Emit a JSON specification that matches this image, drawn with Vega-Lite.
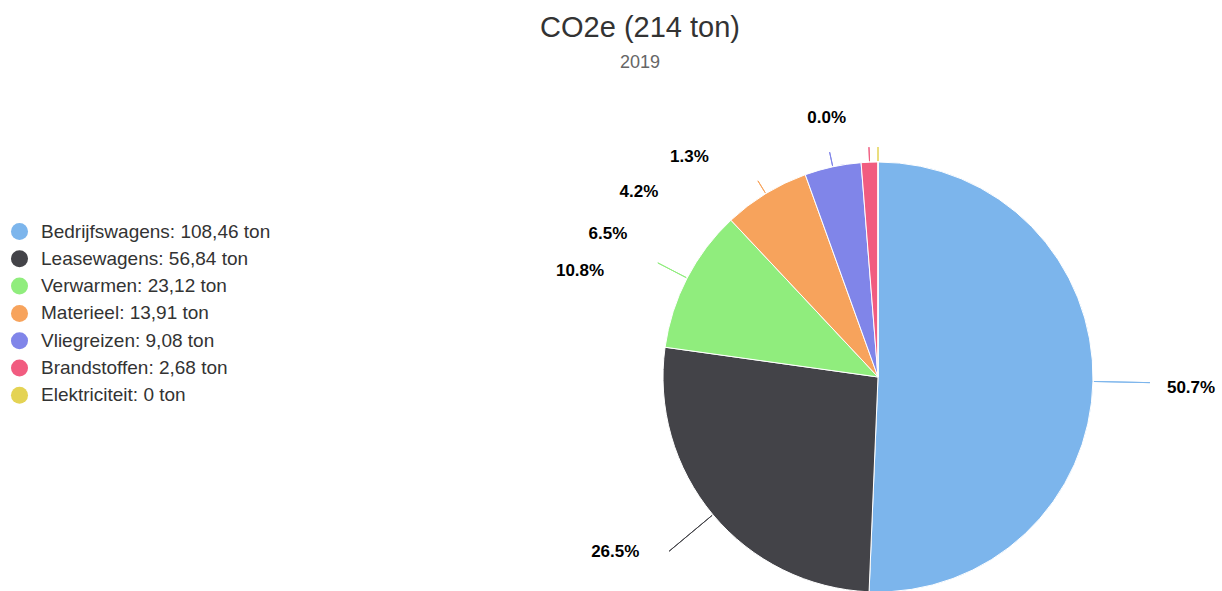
{
  "$schema": "https://vega.github.io/schema/vega-lite/v6.json",
  "width": 688,
  "height": 428,
  "autosize": {"type": "none"},
  "padding": {"left": 534, "top": 163, "right": 0, "bottom": 0},
  "background": "white",
  "title": {
    "text": "CO2e (214 ton)",
    "subtitle": "2019",
    "anchor": "middle",
    "frame": "group",
    "dx": -238,
    "offset": 37,
    "font": "Liberation Sans",
    "fontSize": 29,
    "fontWeight": "normal",
    "color": "#333333",
    "subtitleFont": "Liberation Sans",
    "subtitleFontSize": 18,
    "subtitleColor": "#666666",
    "subtitlePadding": 11
  },
  "data": {
    "values": [
      {"name": "Bedrijfswagens", "ton": 108.46, "label": "Bedrijfswagens: 108,46 ton"},
      {"name": "Leasewagens", "ton": 56.84, "label": "Leasewagens: 56,84 ton"},
      {"name": "Verwarmen", "ton": 23.12, "label": "Verwarmen: 23,12 ton"},
      {"name": "Materieel", "ton": 13.91, "label": "Materieel: 13,91 ton"},
      {"name": "Vliegreizen", "ton": 9.08, "label": "Vliegreizen: 9,08 ton"},
      {"name": "Brandstoffen", "ton": 2.68, "label": "Brandstoffen: 2,68 ton"},
      {"name": "Elektriciteit", "ton": 0, "label": "Elektriciteit: 0 ton"}
    ]
  },
  "transform": [
    {"joinaggregate": [{"op": "sum", "field": "ton", "as": "total"}]},
    {"calculate": "format(datum.ton / datum.total * 100, '.1f') + '%'", "as": "pct"},
    {"stack": "ton", "groupby": [], "sort": [{"field": "ton", "order": "descending"}], "as": ["v0", "v1"]},
    {"calculate": "(datum.v0 + datum.v1) / 2", "as": "mid"}
  ],
  "layer": [
    {
      "mark": {"type": "arc", "radius": 215, "stroke": "#ffffff", "strokeWidth": 1},
      "encoding": {
        "theta": {"field": "v0", "type": "quantitative"},
        "theta2": {"field": "v1"},
        "color": {
          "field": "label",
          "type": "nominal",
          "scale": {
            "domain": ["Bedrijfswagens: 108,46 ton", "Leasewagens: 56,84 ton", "Verwarmen: 23,12 ton", "Materieel: 13,91 ton", "Vliegreizen: 9,08 ton", "Brandstoffen: 2,68 ton", "Elektriciteit: 0 ton"],
            "range": ["#7cb5ec", "#434348", "#90ed7d", "#f7a35c", "#8085e9", "#f15c80", "#e4d354"]
          },
          "legend": {
            "orient": "none",
            "legendX": -524,
            "legendY": 59,
            "title": null,
            "symbolType": "circle",
            "symbolSize": 290,
            "symbolStrokeWidth": 0,
            "labelFont": "Liberation Sans",
            "labelFontSize": 19,
            "labelColor": "#333333",
            "labelOffset": 12,
            "labelLimit": 400,
            "rowPadding": 7.3
          }
        }
      }
    },
    {
      "transform": [{"filter": "datum.name === 'Bedrijfswagens' || datum.name === 'Leasewagens'"}],
      "mark": {"type": "arc", "filled": false, "radius": 272, "radius2": 216, "strokeWidth": 1},
      "encoding": {
        "theta": {"field": "mid", "type": "quantitative"},
        "theta2": {"field": "mid"},
        "stroke": {"field": "label", "type": "nominal", "legend": null, "scale": {
          "domain": ["Bedrijfswagens: 108,46 ton", "Leasewagens: 56,84 ton", "Verwarmen: 23,12 ton", "Materieel: 13,91 ton", "Vliegreizen: 9,08 ton", "Brandstoffen: 2,68 ton", "Elektriciteit: 0 ton"],
          "range": ["#7cb5ec", "#434348", "#90ed7d", "#f7a35c", "#8085e9", "#f15c80", "#e4d354"]}}
      }
    },
    {
      "transform": [{"filter": "datum.name === 'Verwarmen'"}],
      "mark": {"type": "arc", "filled": false, "radius": 248, "radius2": 216, "strokeWidth": 1},
      "encoding": {
        "theta": {"field": "mid", "type": "quantitative"},
        "theta2": {"field": "mid"},
        "stroke": {"field": "label", "type": "nominal", "legend": null}
      }
    },
    {
      "transform": [{"filter": "datum.ton < 20"}],
      "mark": {"type": "arc", "filled": false, "radius": 230, "radius2": 216, "strokeWidth": 1},
      "encoding": {
        "theta": {"field": "mid", "type": "quantitative"},
        "theta2": {"field": "mid"},
        "stroke": {"field": "label", "type": "nominal", "legend": null}
      }
    },
    {
      "transform": [{"filter": "datum.name === 'Bedrijfswagens'"}],
      "mark": {"type": "text", "radius": 260, "align": "left", "baseline": "middle", "dx": 29, "dy": 6, "font": "Liberation Sans", "fontWeight": "bold", "fontSize": 17, "color": "#000000"},
      "encoding": {"theta": {"field": "mid", "type": "quantitative"}, "text": {"field": "pct"}}
    },
    {
      "transform": [{"filter": "datum.name === 'Leasewagens'"}],
      "mark": {"type": "text", "radius": 260, "align": "right", "baseline": "middle", "dx": -39, "dy": 8, "font": "Liberation Sans", "fontWeight": "bold", "fontSize": 17, "color": "#000000"},
      "encoding": {"theta": {"field": "mid", "type": "quantitative"}, "text": {"field": "pct"}}
    },
    {
      "transform": [{"filter": "datum.name === 'Verwarmen'"}],
      "mark": {"type": "text", "radius": 260, "align": "right", "baseline": "middle", "dx": -43, "dy": 14, "font": "Liberation Sans", "fontWeight": "bold", "fontSize": 17, "color": "#000000"},
      "encoding": {"theta": {"field": "mid", "type": "quantitative"}, "text": {"field": "pct"}}
    },
    {
      "transform": [{"filter": "datum.name === 'Materieel'"}],
      "mark": {"type": "text", "radius": 260, "align": "right", "baseline": "middle", "dx": -115, "dy": 79, "font": "Liberation Sans", "fontWeight": "bold", "fontSize": 17, "color": "#000000"},
      "encoding": {"theta": {"field": "mid", "type": "quantitative"}, "text": {"field": "pct"}}
    },
    {
      "transform": [{"filter": "datum.name === 'Vliegreizen'"}],
      "mark": {"type": "text", "radius": 260, "align": "right", "baseline": "middle", "dx": -165, "dy": 69, "font": "Liberation Sans", "fontWeight": "bold", "fontSize": 17, "color": "#000000"},
      "encoding": {"theta": {"field": "mid", "type": "quantitative"}, "text": {"field": "pct"}}
    },
    {
      "transform": [{"filter": "datum.name === 'Brandstoffen'"}],
      "mark": {"type": "text", "radius": 260, "align": "right", "baseline": "middle", "dx": -159, "dy": 40, "font": "Liberation Sans", "fontWeight": "bold", "fontSize": 17, "color": "#000000"},
      "encoding": {"theta": {"field": "mid", "type": "quantitative"}, "text": {"field": "pct"}}
    },
    {
      "transform": [{"filter": "datum.name === 'Elektriciteit'"}],
      "mark": {"type": "text", "radius": 260, "align": "right", "baseline": "middle", "dx": -32, "dy": 1, "font": "Liberation Sans", "fontWeight": "bold", "fontSize": 17, "color": "#000000"},
      "encoding": {"theta": {"field": "mid", "type": "quantitative"}, "text": {"field": "pct"}}
    }
  ]
}
